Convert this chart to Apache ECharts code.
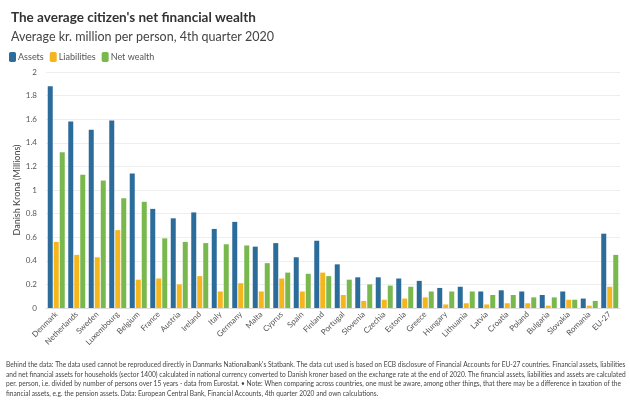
<!DOCTYPE html>
<html>
<head>
<meta charset="utf-8">
<script src="https://cdn.jsdelivr.net/npm/echarts@6/dist/echarts.min.js"></script>
<style>html,body{margin:0;padding:0;background:#fff}#c{width:630px;height:402px}</style>
</head>
<body>
<div id="c"></div>
<script>
const categories = ['Denmark','Netherlands','Sweden','Luxembourg','Belgium','France','Austria','Ireland','Italy','Germany','Malta','Cyprus','Spain','Finland','Portugal','Slovenia','Czechia','Estonia','Greece','Hungary','Lithuania','Latvia','Croatia','Poland','Bulgaria','Slovakia','Romania','EU-27'];
const assets      = [1.88,1.58,1.51,1.59,1.14,0.84,0.76,0.81,0.67,0.73,0.52,0.55,0.43,0.57,0.37,0.26,0.26,0.25,0.23,0.17,0.18,0.14,0.15,0.14,0.11,0.14,0.08,0.63];
const liabilities = [0.56,0.45,0.43,0.66,0.24,0.25,0.20,0.27,0.14,0.21,0.14,0.25,0.14,0.30,0.11,0.06,0.07,0.08,0.09,0.03,0.04,0.03,0.04,0.04,0.02,0.07,0.02,0.18];
const netWealth   = [1.32,1.13,1.08,0.93,0.90,0.59,0.56,0.55,0.54,0.53,0.38,0.30,0.29,0.27,0.24,0.20,0.19,0.18,0.14,0.14,0.14,0.11,0.11,0.09,0.09,0.07,0.06,0.45];
const yTicks = {min:0, max:2, interval:0.2};
const yAxisName = 'Danish Krona (Millions)';
const footnote = [
"Behind the data: The data used cannot be reproduced directly in Danmarks Nationalbank's Statbank. The data cut used is based on ECB disclosure of Financial Accounts for EU-27 countries. Financial assets, liabilities",
"and net financial assets for households (sector 1400) calculated in national currency converted to Danish kroner based on the exchange rate at the end of 2020. The financial assets, liabilities and assets are calculated",
"per. person, i.e. divided by number of persons over 15 years - data from Eurostat. \u2022 Note: When comparing across countries, one must be aware, among other things, that there may be a difference in taxation of the",
"financial assets, e.g. the pension assets. Data: European Central Bank, Financial Accounts, 4th quarter 2020 and own calculations."
];
const colors = ['#2B6C9B','#F4B51D','#79B84C'];
const font = 'Lato, "Open Sans", sans-serif';
const chart = echarts.init(document.getElementById('c'), null, {renderer:'canvas'});
chart.setOption({
  animation:false,
  color: colors,
  textStyle:{fontFamily:font},
  title:{
    text:"The average citizen's net financial wealth",
    subtext:'Average kr. million per person, 4th quarter 2020',
    left:6, top:6, itemGap:5,
    textStyle:{fontFamily:font, fontSize:13.5, fontWeight:'bold', color:'#333'},
    subtextStyle:{fontFamily:font, fontSize:12.5, color:'#444'}
  },
  legend:{
    left:4, top:47, itemWidth:7, itemHeight:10, itemGap:6,
    icon:'roundRect',
    textStyle:{fontFamily:font, fontSize:9, color:'#555', padding:[0,0,0,-3]},
    data:['Assets','Liabilities','Net wealth']
  },
  grid:{left:46, right:10, top:72, bottom:94},
  xAxis:{
    type:'category', data:categories,
    axisLine:{show:true, lineStyle:{color:'#ddd'}},
    axisTick:{show:false},
    axisLabel:{rotate:45, fontSize:8, color:'#555', interval:0, margin:5, fontFamily:font}
  },
  yAxis:{
    type:'value', min:yTicks.min, max:yTicks.max, interval:yTicks.interval,
    axisLabel:{fontSize:8, color:'#555', margin:9, fontFamily:font},
    splitLine:{lineStyle:{color:'#eee'}},
    axisLine:{show:false}, axisTick:{show:false}
  },
  series:[
    {name:'Assets', type:'bar', data:assets, barWidth:5, barGap:'20%'},
    {name:'Liabilities', type:'bar', data:liabilities, barWidth:5, barGap:'20%'},
    {name:'Net wealth', type:'bar', data:netWealth, barWidth:5, barGap:'20%'}
  ],
  graphic:[{
    type:'text', x:17, y:190, rotation:Math.PI/2,
    style:{text:yAxisName, fontSize:9, fill:'#444', fontFamily:font, align:'center', verticalAlign:'middle'}
  },{
    type:'text', left:6, top:360,
    style:{text:footnote.join('\n'), fontSize:6.6, lineHeight:9.7, fill:'#444', fontFamily:font}
  }]
});
</script>
</body>
</html>
